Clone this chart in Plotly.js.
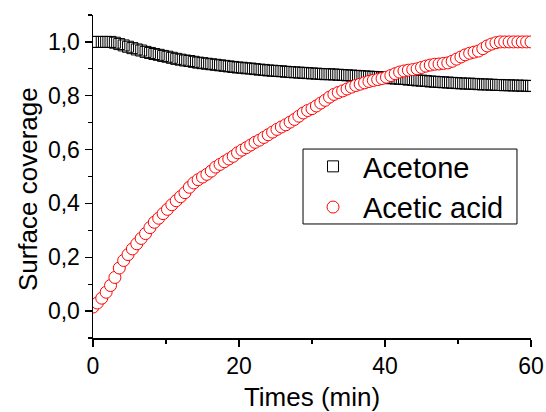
<!DOCTYPE html>
<html>
<head>
<meta charset="utf-8">
<script src="https://cdn.plot.ly/plotly-3.0.1.min.js"></script>
<style>html,body{margin:0;padding:0;background:#fff}#chart{width:546px;height:412px}</style>
</head>
<body>
<div id="chart"></div>
<script>
const times = [0,0.6,1.2,1.8,2.4,3,3.6,4.2,4.8,5.4,
  6,6.6,7.2,7.8,8.4,9,9.6,10.2,10.8,11.4,
  12,12.6,13.2,13.8,14.4,15,15.6,16.2,16.8,17.4,
  18,18.6,19.2,19.8,20.4,21,21.6,22.2,22.8,23.4,
  24,24.6,25.2,25.8,26.4,27,27.6,28.2,28.8,29.4,
  30,30.6,31.2,31.8,32.4,33,33.6,34.2,34.8,35.4,
  36,36.6,37.2,37.8,38.4,39,39.6,40.2,40.8,41.4,
  42,42.6,43.2,43.8,44.4,45,45.6,46.2,46.8,47.4,
  48,48.6,49.2,49.8,50.4,51,51.6,52.2,52.8,53.4,
  54,54.6,55.2,55.8,56.4,57,57.6,58.2,58.8,59.4,
  60];
const acetone = [1.0,1.0,1.0,1.0,1.0,0.997,0.992,0.987,0.982,0.977,
  0.972,0.968,0.963,0.959,0.955,0.952,0.948,0.945,0.941,0.937,
  0.934,0.931,0.929,0.926,0.923,0.921,0.919,0.917,0.915,0.913,
  0.911,0.909,0.907,0.905,0.904,0.902,0.901,0.899,0.897,0.896,
  0.894,0.893,0.892,0.891,0.889,0.888,0.887,0.886,0.885,0.884,
  0.883,0.882,0.881,0.880,0.880,0.879,0.878,0.877,0.876,0.875,
  0.874,0.873,0.872,0.871,0.870,0.869,0.868,0.867,0.865,0.864,
  0.863,0.862,0.860,0.859,0.857,0.856,0.855,0.853,0.852,0.851,
  0.850,0.849,0.848,0.847,0.846,0.845,0.845,0.844,0.843,0.842,
  0.842,0.841,0.840,0.840,0.839,0.839,0.838,0.838,0.837,0.837,
  0.836];
const aceticAcid = [0.015,0.03,0.048,0.07,0.095,0.125,0.16,0.188,0.21,0.231,
  0.25,0.27,0.288,0.31,0.33,0.345,0.362,0.378,0.395,0.41,
  0.425,0.44,0.46,0.476,0.488,0.498,0.508,0.52,0.535,0.545,
  0.555,0.565,0.575,0.588,0.598,0.607,0.617,0.627,0.635,0.645,
  0.655,0.665,0.675,0.684,0.692,0.702,0.712,0.724,0.736,0.745,
  0.752,0.762,0.773,0.783,0.795,0.805,0.812,0.818,0.825,0.832,
  0.838,0.843,0.848,0.853,0.857,0.86,0.864,0.869,0.875,0.882,
  0.888,0.892,0.895,0.897,0.9,0.905,0.91,0.914,0.917,0.918,
  0.92,0.922,0.928,0.936,0.944,0.952,0.958,0.962,0.966,0.975,
  0.985,0.992,0.997,1.0,1.0,1.0,1.0,1.0,1.0,1.0,
  1.0];
const seriesNames = ['Acetone', 'Acetic acid'];
const xTitle = 'Times (min)';
const yTitle = 'Surface coverage';

const FONT = 'Liberation Sans';
const traces = [
  {x: times, y: acetone, name: seriesNames[0], type: 'scatter', mode: 'markers',
   marker: {symbol: 'square-open', size: 11, color: '#000', line: {width: 1, color: '#000'}}},
  {x: times, y: aceticAcid, name: seriesNames[1], type: 'scatter', mode: 'markers',
   marker: {symbol: 'circle', size: 12, color: '#fff', line: {width: 1, color: '#ff0000'}}}
];
const axCommon = {showgrid: false, zeroline: false, showline: true, linecolor: '#000', linewidth: 1.5,
  tickcolor: '#000', tickwidth: 1.2, ticklen: 7, ticks: 'outside',
  tickfont: {family: FONT, size: 23, color: '#000'}};
const layout = {
  width: 546, height: 412,
  margin: {l: 93, r: 15, t: 15, b: 74},
  paper_bgcolor: '#fff', plot_bgcolor: '#fff',
  separators: ',.',
  showlegend: true,
  legend: {x: 0.4795, y: 0.6099, xanchor: 'left', yanchor: 'top', bgcolor: 'rgba(0,0,0,0)',
    borderwidth: 0, font: {family: FONT, size: 29, color: '#000'},
    traceorder: 'normal', itemwidth: 50},
  shapes: [{type: 'rect', xref: 'paper', yref: 'paper', x0: 0.4795, x1: 0.968, y0: 0.353, y1: 0.585,
    line: {color: '#000', width: 1}, fillcolor: '#fff', layer: 'above'}],
  annotations: [{text: yTitle, xref: 'paper', yref: 'paper', x: 0, y: 0.461, xanchor: 'center',
    yanchor: 'middle', xshift: -65, textangle: -90, showarrow: false,
    font: {family: FONT, size: 26, color: '#000'}}],
  xaxis: Object.assign({}, axCommon, {range: [0, 60], dtick: 20, tick0: 0,
    minor: {dtick: 10, ticklen: 4, ticks: 'outside', tickcolor: '#000', tickwidth: 1.2},
    title: {text: xTitle, font: {family: FONT, size: 26, color: '#000'}, standoff: 9}}),
  yaxis: Object.assign({}, axCommon, {range: [-0.1, 1.1], dtick: 0.2, tick0: 0, tickformat: '.1f',
    minor: {dtick: 0.1, ticklen: 4, ticks: 'outside', tickcolor: '#000', tickwidth: 1.2}}),
  xaxis2: {overlaying: 'x', side: 'top', anchor: 'y', range: [0, 60], dtick: 20, tick0: 0,
    showgrid: false, zeroline: false, showline: true, linecolor: '#000', linewidth: 1.5,
    ticks: 'inside', ticklen: 7, tickwidth: 1.2, tickcolor: '#000', showticklabels: false,
    minor: {dtick: 10, ticklen: 4, ticks: 'inside', tickcolor: '#000', tickwidth: 1.2}},
  yaxis2: {overlaying: 'y', side: 'right', anchor: 'x', range: [-0.1, 1.1], dtick: 0.2, tick0: 0,
    showgrid: false, zeroline: false, showline: true, linecolor: '#000', linewidth: 1.5,
    ticks: 'inside', ticklen: 7, tickwidth: 1.2, tickcolor: '#000', showticklabels: false,
    minor: {dtick: 0.1, ticklen: 4, ticks: 'inside', tickcolor: '#000', tickwidth: 1.2}}
};
Plotly.newPlot('chart', traces, layout, {displayModeBar: false, staticPlot: true});
</script>
</body>
</html>
